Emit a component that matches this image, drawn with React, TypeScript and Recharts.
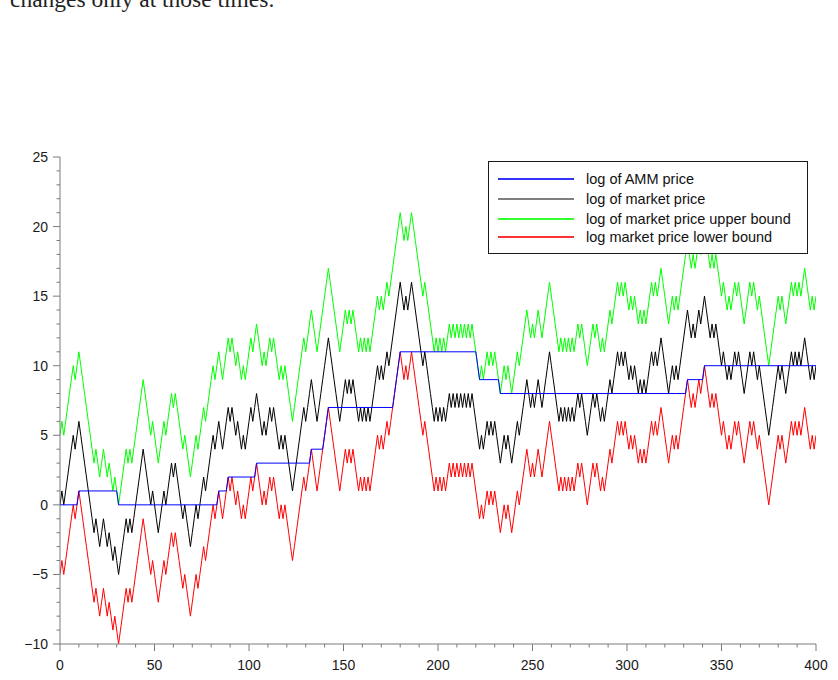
import React from 'react';
import { LineChart, Line, XAxis, YAxis, Legend } from 'recharts';

// log of market price, one value per time step t = 0..400
const market = [
  0, 1, 0, 1, 2, 3, 4, 5, 4, 5, 6, 5, 4, 3, 2, 1, 0, -1, -2, -1,
  -2, -3, -2, -1, -2, -3, -2, -3, -4, -3, -4, -5, -4, -3, -2, -1, -2, -1, -2, -1,
  0, 1, 2, 3, 4, 3, 2, 1, 0, 1, 0, -1, -2, -1, 0, 1, 0, 1, 2, 3,
  2, 3, 2, 1, 0, -1, 0, -1, -2, -3, -2, -1, 0, -1, 0, 1, 2, 1, 2, 3,
  4, 5, 4, 5, 6, 5, 4, 5, 6, 7, 6, 7, 6, 5, 6, 5, 4, 5, 4, 5,
  6, 7, 6, 7, 8, 7, 6, 5, 6, 5, 6, 7, 6, 7, 6, 5, 4, 5, 4, 5,
  4, 3, 2, 1, 2, 3, 4, 5, 6, 7, 6, 7, 8, 9, 8, 7, 6, 7, 8, 9,
  10, 11, 12, 11, 10, 9, 8, 7, 6, 7, 8, 9, 8, 9, 8, 9, 8, 7, 6, 7,
  6, 7, 6, 7, 6, 7, 8, 9, 10, 9, 10, 9, 10, 11, 10, 11, 12, 13, 14, 15,
  16, 15, 14, 15, 14, 15, 16, 15, 14, 13, 12, 11, 10, 11, 10, 9, 8, 7, 6, 7,
  6, 7, 6, 7, 6, 7, 8, 7, 8, 7, 8, 7, 8, 7, 8, 7, 8, 7, 8, 7,
  6, 5, 4, 5, 4, 5, 6, 5, 6, 5, 6, 5, 4, 3, 4, 5, 4, 5, 4, 3,
  4, 5, 6, 5, 6, 7, 8, 9, 8, 7, 8, 7, 8, 9, 8, 7, 8, 9, 10, 11,
  10, 9, 8, 7, 6, 7, 6, 7, 6, 7, 6, 7, 6, 7, 8, 7, 8, 7, 6, 5,
  6, 7, 8, 7, 8, 7, 6, 7, 6, 7, 8, 9, 8, 9, 10, 11, 10, 11, 10, 11,
  10, 9, 10, 9, 10, 9, 8, 9, 8, 9, 8, 9, 10, 11, 10, 11, 10, 11, 12, 11,
  10, 9, 8, 9, 10, 9, 10, 9, 10, 11, 12, 13, 14, 13, 12, 13, 12, 13, 14, 13,
  14, 15, 14, 13, 12, 13, 12, 13, 12, 11, 10, 11, 10, 9, 10, 9, 10, 11, 10, 11,
  10, 9, 8, 9, 10, 11, 10, 11, 10, 9, 10, 9, 8, 7, 6, 5, 6, 7, 8, 9,
  10, 9, 10, 9, 8, 9, 10, 11, 10, 11, 10, 11, 10, 11, 12, 11, 10, 9, 10, 9,
  10,
];

// log of market price upper bound
const upper = [
  5, 6, 5, 6, 7, 8, 9, 10, 9, 10, 11, 10, 9, 8, 7, 6, 5, 4, 3, 4,
  3, 2, 3, 4, 3, 2, 3, 2, 1, 2, 1, 0, 1, 2, 3, 4, 3, 4, 3, 4,
  5, 6, 7, 8, 9, 8, 7, 6, 5, 6, 5, 4, 3, 4, 5, 6, 5, 6, 7, 8,
  7, 8, 7, 6, 5, 4, 5, 4, 3, 2, 3, 4, 5, 4, 5, 6, 7, 6, 7, 8,
  9, 10, 9, 10, 11, 10, 9, 10, 11, 12, 11, 12, 11, 10, 11, 10, 9, 10, 9, 10,
  11, 12, 11, 12, 13, 12, 11, 10, 11, 10, 11, 12, 11, 12, 11, 10, 9, 10, 9, 10,
  9, 8, 7, 6, 7, 8, 9, 10, 11, 12, 11, 12, 13, 14, 13, 12, 11, 12, 13, 14,
  15, 16, 17, 16, 15, 14, 13, 12, 11, 12, 13, 14, 13, 14, 13, 14, 13, 12, 11, 12,
  11, 12, 11, 12, 11, 12, 13, 14, 15, 14, 15, 14, 15, 16, 15, 16, 17, 18, 19, 20,
  21, 20, 19, 20, 19, 20, 21, 20, 19, 18, 17, 16, 15, 16, 15, 14, 13, 12, 11, 12,
  11, 12, 11, 12, 11, 12, 13, 12, 13, 12, 13, 12, 13, 12, 13, 12, 13, 12, 13, 12,
  11, 10, 9, 10, 9, 10, 11, 10, 11, 10, 11, 10, 9, 8, 9, 10, 9, 10, 9, 8,
  9, 10, 11, 10, 11, 12, 13, 14, 13, 12, 13, 12, 13, 14, 13, 12, 13, 14, 15, 16,
  15, 14, 13, 12, 11, 12, 11, 12, 11, 12, 11, 12, 11, 12, 13, 12, 13, 12, 11, 10,
  11, 12, 13, 12, 13, 12, 11, 12, 11, 12, 13, 14, 13, 14, 15, 16, 15, 16, 15, 16,
  15, 14, 15, 14, 15, 14, 13, 14, 13, 14, 13, 14, 15, 16, 15, 16, 15, 16, 17, 16,
  15, 14, 13, 14, 15, 14, 15, 14, 15, 16, 17, 18, 19, 18, 17, 18, 17, 18, 19, 18,
  19, 20, 19, 18, 17, 18, 17, 18, 17, 16, 15, 16, 15, 14, 15, 14, 15, 16, 15, 16,
  15, 14, 13, 14, 15, 16, 15, 16, 15, 14, 15, 14, 13, 12, 11, 10, 11, 12, 13, 14,
  15, 14, 15, 14, 13, 14, 15, 16, 15, 16, 15, 16, 15, 16, 17, 16, 15, 14, 15, 14,
  15,
];

// log market price lower bound
const lower = [
  -5, -4, -5, -4, -3, -2, -1, 0, -1, 0, 1, 0, -1, -2, -3, -4, -5, -6, -7, -6,
  -7, -8, -7, -6, -7, -8, -7, -8, -9, -8, -9, -10, -9, -8, -7, -6, -7, -6, -7, -6,
  -5, -4, -3, -2, -1, -2, -3, -4, -5, -4, -5, -6, -7, -6, -5, -4, -5, -4, -3, -2,
  -3, -2, -3, -4, -5, -6, -5, -6, -7, -8, -7, -6, -5, -6, -5, -4, -3, -4, -3, -2,
  -1, 0, -1, 0, 1, 0, -1, 0, 1, 2, 1, 2, 1, 0, 1, 0, -1, 0, -1, 0,
  1, 2, 1, 2, 3, 2, 1, 0, 1, 0, 1, 2, 1, 2, 1, 0, -1, 0, -1, 0,
  -1, -2, -3, -4, -3, -2, -1, 0, 1, 2, 1, 2, 3, 4, 3, 2, 1, 2, 3, 4,
  5, 6, 7, 6, 5, 4, 3, 2, 1, 2, 3, 4, 3, 4, 3, 4, 3, 2, 1, 2,
  1, 2, 1, 2, 1, 2, 3, 4, 5, 4, 5, 4, 5, 6, 5, 6, 7, 8, 9, 10,
  11, 10, 9, 10, 9, 10, 11, 10, 9, 8, 7, 6, 5, 6, 5, 4, 3, 2, 1, 2,
  1, 2, 1, 2, 1, 2, 3, 2, 3, 2, 3, 2, 3, 2, 3, 2, 3, 2, 3, 2,
  1, 0, -1, 0, -1, 0, 1, 0, 1, 0, 1, 0, -1, -2, -1, 0, -1, 0, -1, -2,
  -1, 0, 1, 0, 1, 2, 3, 4, 3, 2, 3, 2, 3, 4, 3, 2, 3, 4, 5, 6,
  5, 4, 3, 2, 1, 2, 1, 2, 1, 2, 1, 2, 1, 2, 3, 2, 3, 2, 1, 0,
  1, 2, 3, 2, 3, 2, 1, 2, 1, 2, 3, 4, 3, 4, 5, 6, 5, 6, 5, 6,
  5, 4, 5, 4, 5, 4, 3, 4, 3, 4, 3, 4, 5, 6, 5, 6, 5, 6, 7, 6,
  5, 4, 3, 4, 5, 4, 5, 4, 5, 6, 7, 8, 9, 8, 7, 8, 7, 8, 9, 8,
  9, 10, 9, 8, 7, 8, 7, 8, 7, 6, 5, 6, 5, 4, 5, 4, 5, 6, 5, 6,
  5, 4, 3, 4, 5, 6, 5, 6, 5, 4, 5, 4, 3, 2, 1, 0, 1, 2, 3, 4,
  5, 4, 5, 4, 3, 4, 5, 6, 5, 6, 5, 6, 5, 6, 7, 6, 5, 4, 5, 4,
  5,
];

// log of AMM price: value at the times where it starts / ends a level
const ammT = [0, 9, 10, 30, 31, 83, 84, 88, 89, 103, 104, 132, 133, 139, 140, 141, 142, 176, 177, 178, 179, 180, 220, 221, 222, 232, 233, 331, 332, 340, 341, 400];
const ammV = [0, 0, 1, 1, 0, 0, 1, 1, 2, 2, 3, 3, 4, 4, 5, 6, 7, 7, 8, 9, 10, 11, 11, 10, 9, 9, 8, 8, 9, 9, 10, 10];

const xTicks = [0, 10, 20, 30, 40, 50, 60, 70, 80, 90, 100, 110, 120, 130, 140, 150, 160, 170, 180, 190, 200, 210, 220, 230, 240, 250, 260, 270, 280, 290, 300, 310, 320, 330, 340, 350, 360, 370, 380, 390, 400];
const xLabels = [0, 50, 100, 150, 200, 250, 300, 350, 400];
const yTicks = [-10, -9, -8, -7, -6, -5, -4, -3, -2, -1, 0, 1, 2, 3, 4, 5, 6, 7, 8, 9, 10, 11, 12, 13, 14, 15, 16, 17, 18, 19, 20, 21, 22, 23, 24, 25];
const yLabels = [-10, -5, 0, 5, 10, 15, 20, 25];

const seriesNames = ['log of AMM price', 'log of market price', 'log of market price upper bound', 'log market price lower bound'];
const seriesColors = ['#0000ff', '#000000', '#00ff00', '#ff0000'];

const data = market.map((v, i) => ({ t: i, market: v, upper: upper[i], lower: lower[i] }));
const ammData = ammT.map((t, i) => ({ t, amm: ammV[i] }));

const AXIS = '#7a7a7a';
const SANS = '"Liberation Sans", Arial, Helvetica, sans-serif';

const fmt = (v: number) => (v < 0 ? '\u2212' + Math.abs(v) : String(v));

const YTick = (props: any) => {
  const { x, y, payload } = props;
  const v = payload.value;
  const major = yLabels.includes(v);
  return (
    <g>
      <line x1={x - (major ? 7 : 3.5)} x2={x} y1={y} y2={y} stroke={AXIS} strokeWidth={1} />
      {major && (
        <text x={x - 12} y={y} dy={5} textAnchor="end" fontFamily={SANS} fontSize={14} fill="#1a1a1a">
          {fmt(v)}
        </text>
      )}
    </g>
  );
};

const XTick = (props: any) => {
  const { x, y, payload } = props;
  const v = payload.value;
  const major = xLabels.includes(v);
  return (
    <g>
      <line x1={x} x2={x} y1={y} y2={y + (major ? 7 : 3.5)} stroke={AXIS} strokeWidth={1} />
      {major && (
        <text x={x} y={y + 26} textAnchor="middle" fontFamily={SANS} fontSize={14} fill="#1a1a1a">
          {fmt(v)}
        </text>
      )}
    </g>
  );
};

const renderLegend = () => (
  <div
    style={{
      width: 320,
      height: 93,
      boxSizing: 'border-box',
      border: '1px solid #1a1a1a',
      background: '#ffffff',
      position: 'relative',
    }}
  >
    {seriesNames.map((name, i) => {
      const lineTop = Math.round((16 + i * 19.5) / 2) * 2;
      return (
        <React.Fragment key={name}>
          <div
            style={{
              position: 'absolute',
              left: 9,
              top: lineTop,
              width: 76,
              height: 2,
              background: seriesColors[i],
              opacity: i === 1 ? 0.5 : 0.8,
            }}
          />
          <div
            style={{
              position: 'absolute',
              left: 97,
              top: lineTop - 9,
              height: 20,
              lineHeight: '20px',
              whiteSpace: 'nowrap',
              fontFamily: SANS,
              fontSize: 14.5,
              color: '#111',
            }}
          >
            {name}
          </div>
        </React.Fragment>
      );
    })}
  </div>
);

export default function App() {
  return (
    <div style={{ position: 'absolute', left: 0, top: 0, width: 838, height: 680, background: '#fff', overflow: 'hidden' }}>
      <svg width={838} height={20} style={{ position: 'absolute', left: 0, top: 0 }}>
        <text x={10} y={7} fontFamily='"Liberation Serif", "Times New Roman", serif' fontSize={23.5} fill="#222">
          changes only at those times.
        </text>
      </svg>
      <div style={{ position: 'absolute', left: 0, top: 0 }}>
        <LineChart width={838} height={680} data={data} margin={{ top: 157, right: 22, bottom: 0, left: 0 }}>
          <XAxis
            dataKey="t"
            type="number"
            domain={[0, 400]}
            ticks={xTicks}
            interval={0}
            allowDataOverflow
            height={36}
            tickSize={0}
            tickMargin={0}
            tickLine={false}
            tick={XTick}
            axisLine={{ stroke: AXIS }}
          />
          <XAxis
            xAxisId="top"
            orientation="top"
            dataKey="t"
            type="number"
            domain={[0, 400]}
            height={0}
            tick={false}
            tickLine={false}
            axisLine={{ stroke: AXIS }}
          />
          <YAxis
            type="number"
            domain={[-10, 25]}
            ticks={yTicks}
            interval={0}
            allowDataOverflow
            width={60}
            tickSize={0}
            tickMargin={0}
            tickLine={false}
            tick={YTick}
            axisLine={{ stroke: AXIS }}
          />
          <YAxis
            yAxisId="right"
            orientation="right"
            type="number"
            domain={[-10, 25]}
            width={0}
            tick={false}
            tickLine={false}
            axisLine={{ stroke: AXIS }}
          />
          <Line dataKey="market" name={seriesNames[1]} stroke={seriesColors[1]} strokeWidth={1} dot={false} activeDot={false} isAnimationActive={false} />
          <Line dataKey="upper" name={seriesNames[2]} stroke={seriesColors[2]} strokeWidth={1} dot={false} activeDot={false} isAnimationActive={false} />
          <Line dataKey="lower" name={seriesNames[3]} stroke={seriesColors[3]} strokeWidth={1} dot={false} activeDot={false} isAnimationActive={false} />
          <Line data={ammData} dataKey="amm" name={seriesNames[0]} stroke={seriesColors[0]} strokeWidth={1} dot={false} activeDot={false} isAnimationActive={false} />
          <Legend
            layout="vertical"
            align="center"
            verticalAlign="middle"
            content={renderLegend}
            wrapperStyle={{ position: 'absolute', left: 488, top: 161, width: 320, height: 93 }}
          />
        </LineChart>
      </div>
    </div>
  );
}
